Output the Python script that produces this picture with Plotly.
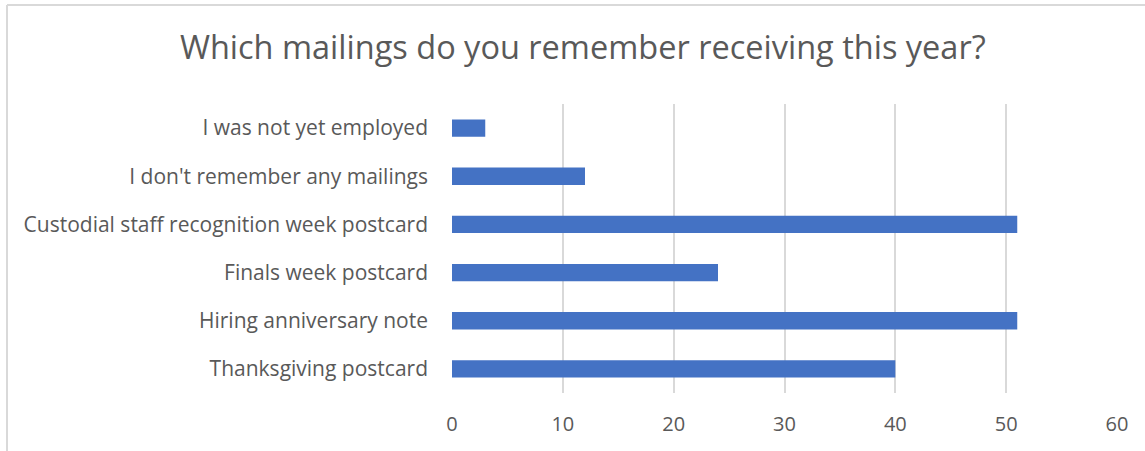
import plotly.graph_objects as go

# Survey responses, bottom-to-top order on the category axis
categories = [
    "Thanksgiving postcard",
    "Hiring anniversary note",
    "Finals week postcard",
    "Custodial staff recognition week postcard",
    "I don't remember any mailings",
    "I was not yet employed",
]
counts = [40, 51, 24, 51, 12, 3]
x_ticks = [0, 10, 20, 30, 40, 50, 60]

W, H = 1145, 451
L, R, T, B = 452, 28, 104, 58
pw, ph = W - L - R, H - T - B

fig = go.Figure(
    go.Bar(
        x=counts,
        y=categories,
        orientation="h",
        marker=dict(color="#4472C4", line=dict(width=0)),
        hoverinfo="x+y",
    )
)

text_font = dict(family="Open Sans, Liberation Sans, sans-serif", color="#595959")

fig.update_layout(
    width=W,
    height=H,
    margin=dict(l=L, r=R, t=T, b=B),
    paper_bgcolor="white",
    plot_bgcolor="white",
    bargap=0.64,
    showlegend=False,
    title=dict(
        text="Which mailings do you remember receiving this year?",
        x=0.509,
        xanchor="center",
        y=1 - 48 / H,
        yanchor="middle",
        font=dict(size=32.5, **text_font),
    ),
    xaxis=dict(
        range=[0, 60],
        tickvals=x_ticks,
        showgrid=True,
        gridcolor="#d9d9d9",
        gridwidth=1.5,
        zeroline=False,
        showline=False,
        ticks="",
        tickfont=dict(size=20, **text_font),
        ticklabelstandoff=17,
    ),
    yaxis=dict(
        showgrid=False,
        zeroline=False,
        showline=False,
        ticks="",
        tickfont=dict(size=21, **text_font),
        ticklabelstandoff=23,
    ),
)

# Light outline around the chart area (left and top edges visible)
x0 = (7 - L) / pw
y1 = 1 + (T - 5) / ph
fig.add_shape(type="line", xref="paper", yref="paper", x0=x0, x1=x0,
              y0=-B / ph - 0.05, y1=y1, line=dict(color="#d9d9d9", width=2))
fig.add_shape(type="line", xref="paper", yref="paper", x0=x0, x1=1 + R / pw + 0.05,
              y0=y1, y1=y1, line=dict(color="#d9d9d9", width=2))

fig.write_html("out.html")
